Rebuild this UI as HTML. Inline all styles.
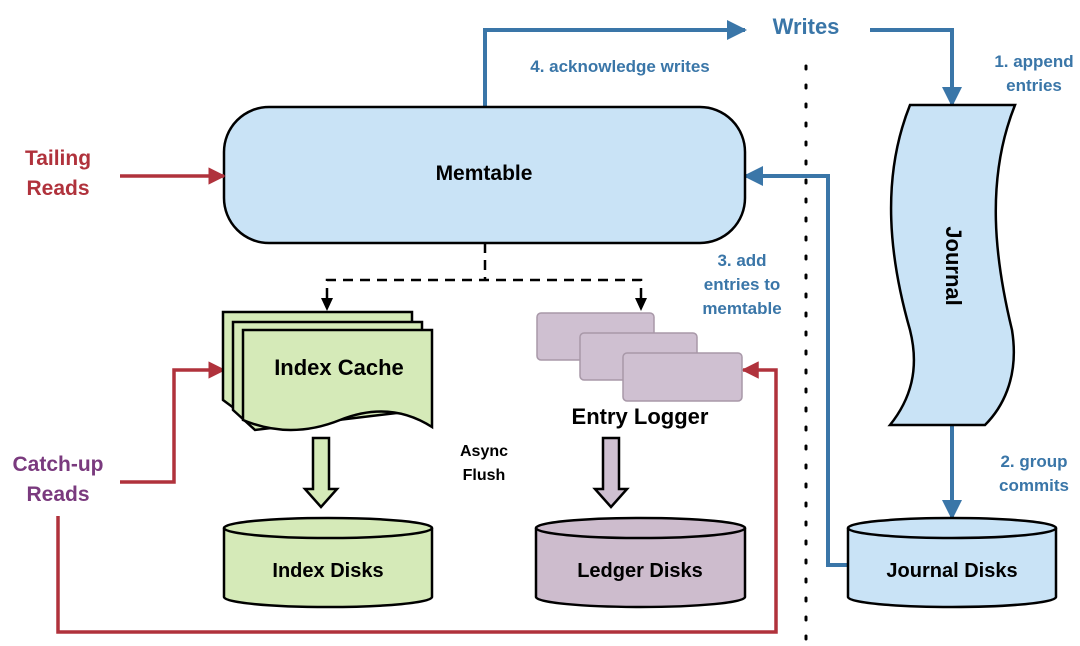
<!DOCTYPE html>
<html><head><meta charset="utf-8"><style>
html,body{margin:0;padding:0;background:#fff;width:1080px;height:646px;overflow:hidden}
svg{display:block}
text{font-family:"Liberation Sans",sans-serif;font-weight:bold}
</style></head><body>
<svg width="1080" height="646" viewBox="0 0 1080 646" xmlns="http://www.w3.org/2000/svg">
<defs>
<marker id="ab" viewBox="0 0 10 10" refX="9" refY="5" markerWidth="5" markerHeight="5" orient="auto"><path d="M0,0L10,5L0,10z" fill="#3a76a8"/></marker>
<marker id="ar" viewBox="0 0 10 10" refX="9" refY="5" markerWidth="5" markerHeight="5" orient="auto"><path d="M0,0L10,5L0,10z" fill="#b0323c"/></marker>
</defs>
<line x1="806" y1="66" x2="806" y2="640" stroke="#000" stroke-width="3" stroke-dasharray="3,16" stroke-linecap="round"/>
<polyline points="485,107 485,30 745,30" fill="none" stroke="#3a76a8" stroke-width="4" marker-end="url(#ab)"/>
<polyline points="870,30 952,30 952,105" fill="none" stroke="#3a76a8" stroke-width="4" marker-end="url(#ab)"/>
<line x1="952" y1="425" x2="952" y2="518" stroke="#3a76a8" stroke-width="4" marker-end="url(#ab)"/>
<polyline points="848,565 828,565 828,176 745,176" fill="none" stroke="#3a76a8" stroke-width="4" marker-end="url(#ab)"/>
<text x="806" y="34" font-size="22" fill="#3a76a8" text-anchor="middle">Writes</text>
<text x="620" y="72" font-size="17" fill="#3a76a8" text-anchor="middle">4. acknowledge writes</text>
<text x="1034" y="67" font-size="17" fill="#3a76a8" text-anchor="middle">1. append</text>
<text x="1034" y="91" font-size="17" fill="#3a76a8" text-anchor="middle">entries</text>
<text x="742" y="266" font-size="17" fill="#3a76a8" text-anchor="middle">3. add</text>
<text x="742" y="290" font-size="17" fill="#3a76a8" text-anchor="middle">entries to</text>
<text x="742" y="314" font-size="17" fill="#3a76a8" text-anchor="middle">memtable</text>
<text x="1034" y="467" font-size="17" fill="#3a76a8" text-anchor="middle">2. group</text>
<text x="1034" y="491" font-size="17" fill="#3a76a8" text-anchor="middle">commits</text>
<rect x="224" y="107" width="521" height="136" rx="45" fill="#c9e3f6" stroke="#000" stroke-width="2.5"/>
<text x="484" y="180" font-size="21" fill="#000" text-anchor="middle">Memtable</text>
<text x="58" y="165" font-size="21" fill="#b0323c" text-anchor="middle">Tailing</text>
<text x="58" y="195" font-size="21" fill="#b0323c" text-anchor="middle">Reads</text>
<line x1="120" y1="176" x2="224" y2="176" stroke="#b0323c" stroke-width="3.5" marker-end="url(#ar)"/>
<text x="58" y="471" font-size="21" fill="#7a3a7e" text-anchor="middle">Catch-up</text>
<text x="58" y="501" font-size="21" fill="#7a3a7e" text-anchor="middle">Reads</text>
<polyline points="120,482 174,482 174,370 224,370" fill="none" stroke="#b0323c" stroke-width="3.5" marker-end="url(#ar)"/>
<polyline points="58,516 58,632 776,632 776,370 743,370" fill="none" stroke="#b0323c" stroke-width="3.5" marker-end="url(#ar)"/>
<line x1="485" y1="243" x2="485" y2="280" stroke="#000" stroke-width="2.5" stroke-dasharray="10,7"/>
<polyline points="327,298 327,280 641,280 641,298" fill="none" stroke="#000" stroke-width="2.5" stroke-dasharray="10,7"/>
<path d="M321,298l12,0l-6,13z M635,298l12,0l-6,13z" fill="#000"/>
<g fill="#d5eab8" stroke="#000" stroke-width="2.5">
<path d="M223,312 L412,312 L412,400 L250,420 L223,400 Z"/>
<path d="M233,322 L422,322 L422,410 L255,430 L233,410 Z"/>
<path d="M243,330 L432,330 L432,427 Q390,400 340,420 Q290,440 243,420 Z"/>
</g>
<text x="339" y="375" font-size="22" fill="#000" text-anchor="middle">Index Cache</text>
<g fill="#cfc0d1" stroke="#a898a8" stroke-width="1.5">
<rect x="537" y="313" width="117" height="47" rx="4"/>
<rect x="580" y="333" width="117" height="47" rx="4"/>
<rect x="623" y="353" width="119" height="48" rx="4"/>
</g>
<text x="640" y="424" font-size="22" fill="#000" text-anchor="middle">Entry Logger</text>
<text x="484" y="456" font-size="16" fill="#000" text-anchor="middle">Async</text>
<text x="484" y="480" font-size="16" fill="#000" text-anchor="middle">Flush</text>
<path d="M313,438 L329,438 L329,489 L337,489 L321,507 L305,489 L313,489 Z" fill="#d5eab8" stroke="#000" stroke-width="2.5"/>
<path d="M603,438 L619,438 L619,489 L627,489 L611,507 L595,489 L603,489 Z" fill="#cfc0d1" stroke="#000" stroke-width="2.5"/>
<g stroke="#000" stroke-width="2.5">
<path d="M224,528 L224,597 A104,10 0 0 0 432,597 L432,528" fill="#d5eab8"/>
<ellipse cx="328" cy="528" rx="104" ry="10" fill="#d5eab8"/>
<path d="M536,528 L536,597 A104.5,10 0 0 0 745,597 L745,528" fill="#cdbccd"/>
<ellipse cx="640.5" cy="528" rx="104.5" ry="10" fill="#cdbccd"/>
<path d="M848,528 L848,597 A104,10 0 0 0 1056,597 L1056,528" fill="#c9e3f6"/>
<ellipse cx="952" cy="528" rx="104" ry="10" fill="#c9e3f6"/>
</g>
<text x="328" y="577" font-size="20" fill="#000" text-anchor="middle">Index Disks</text>
<text x="640" y="577" font-size="20" fill="#000" text-anchor="middle">Ledger Disks</text>
<text x="952" y="577" font-size="20" fill="#000" text-anchor="middle">Journal Disks</text>
<path d="M910,105 L1015,105 C985,180 995,260 1012,330 C1020,380 1000,410 985,425 L890,425 C910,400 920,370 910,330 C890,260 880,180 910,105 Z" fill="#c9e3f6" stroke="#000" stroke-width="2.5"/>
<text x="0" y="0" font-size="22" fill="#000" text-anchor="middle" transform="translate(946,266) rotate(90)">Journal</text>
</svg>
</body></html>
